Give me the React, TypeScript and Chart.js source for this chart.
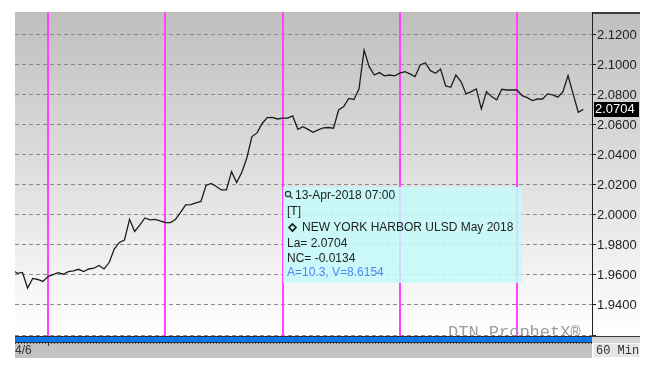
import React, { useEffect, useRef } from 'react';
import { Chart, registerables } from 'chart.js';

Chart.register(...registerables);

// ---- data ----
const firstHour = -7; // hourly bars, hour 0 = start of 4/6 session
const prices = [
  1.9633, 1.9611, 1.9617, 1.9513, 1.9577, 1.9570, 1.9557,
  1.9589, 1.9603, 1.9615, 1.9605, 1.9622, 1.9627, 1.9638, 1.9623, 1.9640, 1.9645,
  1.9663, 1.9640, 1.9683, 1.9773, 1.9817, 1.9833, 1.9971, 1.9890, 1.9933, 1.9980,
  1.9967, 1.9971, 1.9960, 1.9950, 1.9949, 1.9970, 2.0017, 2.0067, 2.0069, 2.0080,
  2.0090, 2.0197, 2.0210, 2.0190, 2.0167, 2.0167, 2.0289, 2.0217, 2.0283, 2.0380,
  2.0523, 2.0547, 2.0610, 2.0649, 2.0651, 2.0640, 2.0645, 2.0645, 2.0660, 2.0571,
  2.0589, 2.0571, 2.0551, 2.0567, 2.0580, 2.0583, 2.0578, 2.0700, 2.0723, 2.0777,
  2.0770, 2.0840, 2.1100, 2.0989, 2.0933, 2.0949, 2.0927, 2.0933, 2.0927, 2.0945,
  2.0955, 2.0940, 2.0922, 2.1000, 2.1015, 2.0962, 2.0945, 2.0973, 2.0860, 2.0851,
  2.0933, 2.0889, 2.0807, 2.0822, 2.0840, 2.0707, 2.0822, 2.0789, 2.0767, 2.0838,
  2.0833, 2.0833, 2.0833, 2.0795, 2.0782, 2.0762, 2.0773, 2.0773, 2.0807, 2.0800,
  2.0785, 2.0822, 2.0929, 2.0807, 2.0685, 2.0704,
];
const dayBoundaries = [0, 23, 46, 69, 92];
const xMin = -6.47;
const xMax = 106.7;
const yMin = 1.92;
const yMax = 2.1353;
const yStep = 0.02;
const hiddenTickValues = [1.92];
const lastPrice = 2.0704;
const xLabel = '4/6';
const intervalLabel = '60 Min';
const watermark = 'DTN ProphetX\u00AE';
const infoDate = '13-Apr-2018 07:00';
const infoType = '[T]';
const infoName = 'NEW YORK HARBOR ULSD May 2018';
const infoLast = 'La= 2.0704';
const infoChange = 'NC= -0.0134';
const infoExtra = 'A=10.3, V=8.6154';

const SANS = '"Liberation Sans", Arial, sans-serif';
const MONO = '"Liberation Mono", "Courier New", monospace';

const decorPlugin = {
  id: 'decor',
  beforeDraw(chart: any) {
    const { ctx, chartArea } = chart;
    const { left, right, top, bottom } = chartArea;
    ctx.save();
    ctx.fillStyle = '#ffffff';
    ctx.fillRect(0, 0, chart.width, chart.height);
    const g = ctx.createLinearGradient(0, top, 0, bottom);
    g.addColorStop(0, '#bfbfbf');
    g.addColorStop(1, '#ffffff');
    ctx.fillStyle = g;
    ctx.fillRect(left, top, 640 - left, bottom + 1 - top);
    // top dark strip on the axis area
    ctx.fillStyle = '#3c3c3c';
    ctx.fillRect(right, top, 640 - right, 2);
    // blue bar
    ctx.fillStyle = '#303030';
    ctx.fillRect(left, bottom + 1, right - left, 1);
    ctx.fillStyle = '#0b78e8';
    ctx.fillRect(left, bottom + 2, right - left, 5);
    ctx.fillStyle = '#303030';
    ctx.fillRect(left, bottom + 7, right - left, 1);
    // right of axis bottom
    ctx.fillStyle = '#3a3a3a';
    ctx.fillRect(right, bottom + 1, 640 - right, 1);
    ctx.fillStyle = '#d6d6d6';
    ctx.fillRect(right, bottom + 2, 640 - right, 6);
    // gray strip
    ctx.fillStyle = '#c2c2c2';
    ctx.fillRect(left, bottom + 8, right - left, 15);
    ctx.strokeStyle = '#555';
    ctx.lineWidth = 1;
    ctx.setLineDash([1, 2]);
    ctx.beginPath();
    ctx.moveTo(left, bottom + 8.5);
    ctx.lineTo(right, bottom + 8.5);
    ctx.stroke();
    ctx.setLineDash([]);
    const xs = chart.scales.x;
    ctx.strokeStyle = '#333';
    ctx.beginPath();
    const tx = Math.round(xs.getPixelForValue(dayBoundaries[0])) + 0.5;
    ctx.moveTo(tx, bottom + 7);
    ctx.lineTo(tx, bottom + 11);
    ctx.stroke();
    ctx.fillStyle = '#333';
    ctx.font = `12px ${SANS}`;
    ctx.textBaseline = 'middle';
    ctx.textAlign = 'left';
    ctx.fillText(xLabel, left, bottom + 16);
    // interval box
    ctx.fillStyle = '#e6e6e6';
    ctx.fillRect(right + 1, bottom + 8, 640 - right - 1, 15);
    ctx.strokeStyle = '#f8f8f8';
    ctx.strokeRect(right + 1.5, bottom + 8.5, 640 - right - 2, 14);
    ctx.fillStyle = '#333';
    ctx.font = `12px ${MONO}`;
    ctx.fillText(intervalLabel, right + 4, bottom + 16);
    ctx.restore();
  },
  beforeDatasetsDraw(chart: any) {
    const { ctx, chartArea } = chart;
    const { left, right, top, bottom } = chartArea;
    const xs = chart.scales.x;
    ctx.save();
    ctx.strokeStyle = '#ff44ff';
    ctx.lineWidth = 2;
    dayBoundaries.forEach((d) => {
      const x = Math.round(xs.getPixelForValue(d));
      ctx.beginPath();
      ctx.moveTo(x, top);
      ctx.lineTo(x, bottom + 1);
      ctx.stroke();
    });
    // watermark
    ctx.beginPath();
    ctx.rect(left, top, right - left, bottom - top);
    ctx.clip();
    ctx.fillStyle = '#9c9c9c';
    ctx.font = `17px ${MONO}`;
    ctx.textBaseline = 'alphabetic';
    ctx.textAlign = 'left';
    ctx.fillText(watermark, 448, bottom + 2);
    ctx.restore();
  },
  afterDatasetsDraw(chart: any) {
    const { ctx, chartArea } = chart;
    const { right } = chartArea;
    const ys = chart.scales.y;
    ctx.save();
    // info box
    ctx.globalAlpha = 0.85;
    ctx.fillStyle = 'rgb(196,249,249)';
    ctx.fillRect(283, 187, 239, 96);
    ctx.globalAlpha = 1;
    ctx.fillStyle = '#222';
    ctx.font = `12px ${SANS}`;
    ctx.textBaseline = 'middle';
    ctx.textAlign = 'left';
    // magnifier icon
    ctx.strokeStyle = '#333';
    ctx.lineWidth = 1.2;
    ctx.beginPath();
    ctx.arc(288, 194, 2.6, 0, Math.PI * 2);
    ctx.stroke();
    ctx.beginPath();
    ctx.moveTo(290, 196);
    ctx.lineTo(292.5, 198.5);
    ctx.stroke();
    ctx.fillText(infoDate, 295, 196);
    ctx.fillText(infoType, 287, 212);
    // diamond
    ctx.lineWidth = 1.6;
    ctx.strokeStyle = '#111';
    ctx.beginPath();
    ctx.moveTo(292.5, 224);
    ctx.lineTo(296, 227.5);
    ctx.lineTo(292.5, 231);
    ctx.lineTo(289, 227.5);
    ctx.closePath();
    ctx.stroke();
    ctx.fillText(infoName, 302, 228);
    ctx.fillText(infoLast, 287, 243.5);
    ctx.fillText(infoChange, 287, 258.5);
    ctx.fillStyle = '#4f86f2';
    ctx.fillText(infoExtra, 287, 273);
    // last price box
    const py = ys.getPixelForValue(lastPrice);
    ctx.fillStyle = '#000';
    ctx.fillRect(right + 2, Math.round(py) - 7, 45, 15);
    ctx.fillStyle = '#fff';
    ctx.font = `13px ${SANS}`;
    ctx.fillText(lastPrice.toFixed(4), right + 3, py + 0.5);
    ctx.restore();
  },
};

export default function App() {
  const ref = useRef<HTMLCanvasElement | null>(null);
  useEffect(() => {
    if (!ref.current) return;
    const chart = new Chart(ref.current, {
      type: 'line',
      data: {
        datasets: [
          {
            data: prices.map((p, i) => ({ x: firstHour + i, y: p })),
            borderColor: '#1c1c1c',
            borderWidth: 1.3,
            pointRadius: 0,
            tension: 0,
            fill: false,
          },
        ],
      },
      options: {
        responsive: false,
        animation: false,
        layout: { padding: { left: 15, top: 12, bottom: 36, right: 0 } },
        plugins: { legend: { display: false }, tooltip: { enabled: false } },
        scales: {
          x: { type: 'linear', min: xMin, max: xMax, display: false },
          y: {
            position: 'right',
            min: yMin,
            max: yMax,
            afterFit: (s: any) => {
              s.width = 55;
            },
            ticks: {
              stepSize: yStep,
              includeBounds: false,
              padding: 1,
              color: '#222',
              font: { family: SANS, size: 13 },
              callback: (v: any) =>
                hiddenTickValues.some((h) => Math.abs(h - v) < 1e-6) ? '' : Number(v).toFixed(4),
            },
            grid: {
              color: '#8a8a8a',
              lineWidth: 1,
              tickLength: 4,
              tickColor: '#222',
              tickBorderDash: [],
            },
            border: { display: true, color: '#222', width: 1, dash: [4, 3] },
          },
        },
      },
      plugins: [decorPlugin],
    } as any);
    return () => chart.destroy();
  }, []);
  return (
    <div style={{ position: 'fixed', left: 0, top: 0, width: 647, height: 371, background: '#fff' }}>
      <canvas ref={ref} width={647} height={371} />
    </div>
  );
}
